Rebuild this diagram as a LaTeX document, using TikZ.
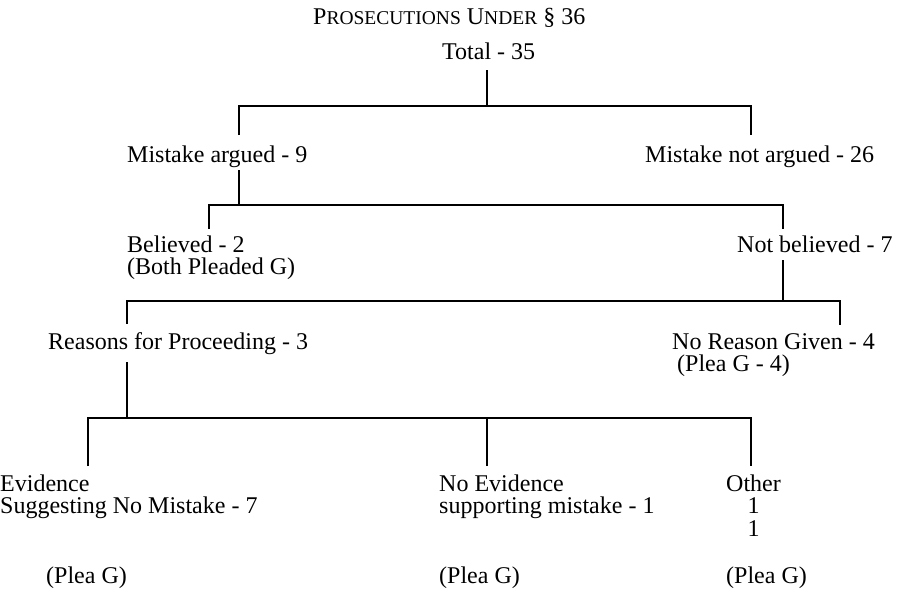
\documentclass[tikz,border=0pt]{standalone}
\usepackage{fontspec}
\setmainfont{Liberation Serif}
\newcommand{\petit}{\fontsize{19.5}{20}\selectfont}
\begin{document}
\begin{tikzpicture}[x=1pt,y=-1pt]
\tikzstyle{lien}=[line width=1.8pt]
\tikzset{rubrique/.style={inner sep=0pt,anchor=base west,align=#1,
font=\fontsize{24}{22.5}\selectfont},
rubrique/.default={left}}
\useasboundingbox (0,0) rectangle (901,589);
\node[rubrique] (titre) at (313,24) {P{\petit ROSECUTIONS} U{\petit NDER} § 36};
\node[rubrique] (T) at (442,59) {Total - 35};
\node[rubrique] (A1) at (127,162) {Mistake argued - 9};
\node[rubrique] (A2) at (645,162) {Mistake not argued - 26};
\node[rubrique] (B1) at (127,274.5) {Believed - 2\\(Both Pleaded G)};
\node[rubrique] (B2) at (737,252) {Not believed - 7};
\node[rubrique] (C1) at (48,349) {Reasons for Proceeding - 3};
\node[rubrique] (C2) at (672,371.5) {No Reason Given - 4\\\hspace*{5pt}(Plea G - 4)};
\node[rubrique] (D1) at (0,513.5) {Evidence\\Suggesting No Mistake - 7};
\node[rubrique] (D2) at (439,513.5) {No Evidence\\supporting mistake - 1};
\node[rubrique=center] (D3) at (726,536) {Other\\1\\1};
\node[rubrique] (P1) at (46,583) {(Plea G)};
\node[rubrique] (P2) at (439,583) {(Plea G)};
\node[rubrique] (P3) at (726,583) {(Plea G)};

\coordinate (j1) at (487,106);
\coordinate (g1) at (239,106);
\coordinate (d1) at (751,106);
\coordinate (j2) at (239,205);
\coordinate (g2) at (209,205);
\coordinate (d2) at (783,205);
\coordinate (j3) at (783,301);
\coordinate (g3) at (127,301);
\coordinate (d3) at (840,301);
\coordinate (j4) at (127,418);
\coordinate (g4) at (88,418);
\coordinate (m4) at (487,418);
\coordinate (d4) at (751,418);

\draw[lien,shorten <=11pt] (T.south -| j1) -- (j1);
\draw[lien,shorten <=10pt,shorten >=10pt] (A1.north -| g1) -- (g1) -- (d1) -- (A2.north -| d1);
\draw[lien,shorten <=3pt] (A1.south -| j2) -- (j2);
\draw[lien,shorten <=6pt,shorten >=6pt] (B1.north -| g2) -- (g2) -- (d2) -- (B2.north -| d2);
\draw[lien,shorten <=8pt] (B2.south -| j3) -- (j3);
\draw[lien,shorten <=8pt,shorten >=8pt] (C1.north -| g3) -- (g3) -- (d3) -- (C2.north -| d3);
\draw[lien,shorten <=8pt] (C1.south -| j4) -- (j4);
\draw[lien,shorten <=8pt,shorten >=8pt] (D1.north -| g4) -- (g4) -- (d4) -- (D3.north -| d4);
\draw[lien,shorten <=8pt] (D2.north -| m4) -- (m4);

\end{tikzpicture}
\end{document}
